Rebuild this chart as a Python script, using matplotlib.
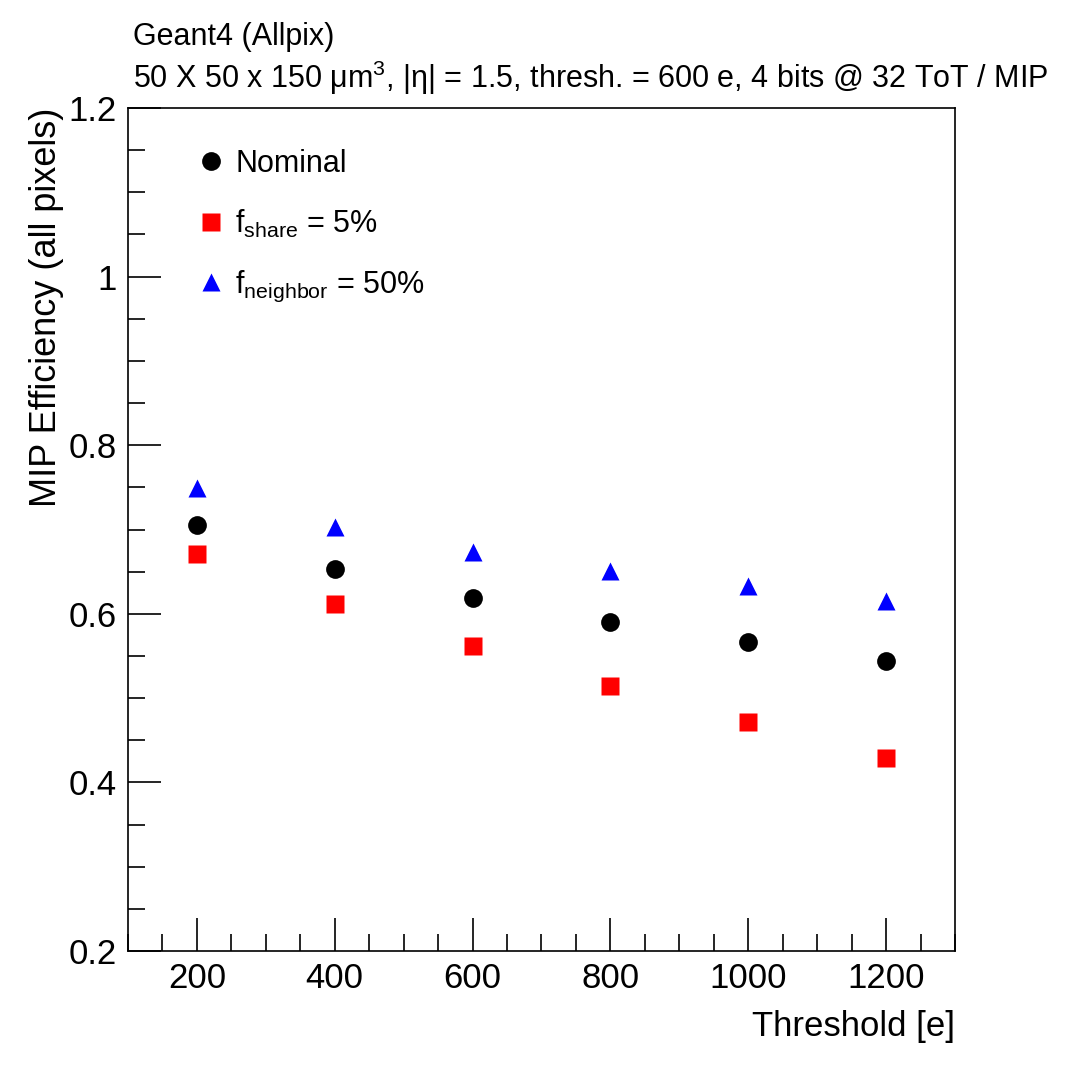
"""MIP efficiency vs threshold, three pixel-sharing variants (Geant4/Allpix)."""
import matplotlib
matplotlib.use("Agg")
import matplotlib.pyplot as plt
from matplotlib.ticker import MultipleLocator, FormatStrFormatter
from matplotlib.lines import Line2D

plt.rcParams["font.family"] = ["Liberation Sans", "DejaVu Sans"]
plt.rcParams["mathtext.fontset"] = "custom"
plt.rcParams["mathtext.rm"] = "Liberation Sans"
plt.rcParams["mathtext.it"] = "Liberation Sans:italic"

# --- data ---
thresholds = [200, 400, 600, 800, 1000, 1200]
eff_nominal = [0.705, 0.653, 0.619, 0.590, 0.567, 0.544]
eff_share = [0.671, 0.612, 0.562, 0.514, 0.472, 0.429]
eff_neighbor = [0.749, 0.703, 0.673, 0.651, 0.633, 0.615]

labels = ["Nominal", r"f$_{\mathrm{share}}$ = 5%", r"f$_{\mathrm{neighbor}}$ = 50%"]

fig = plt.figure(figsize=(10.77, 10.65), dpi=100)
ax = fig.add_axes([0.1188, 0.1070, 0.7679, 0.7916])

ms = 13.5
ax.plot(thresholds, eff_nominal, "o", color="black", ms=ms, mec="none")
ax.plot(thresholds, eff_share, "s", color="#ff0000", ms=ms, mec="none")
ax.plot(thresholds, eff_neighbor, "^", color="#0000ff", ms=ms, mec="none")

ax.set_xlim(100, 1300)
ax.set_ylim(0.2, 1.2)
ax.xaxis.set_major_locator(MultipleLocator(200))
ax.xaxis.set_minor_locator(MultipleLocator(50))
ax.yaxis.set_major_locator(MultipleLocator(0.2))
ax.yaxis.set_minor_locator(MultipleLocator(0.05))
ax.yaxis.set_major_formatter(FormatStrFormatter("%g"))
ax.tick_params(which="both", direction="in", top=False, right=False,
               labelsize=25, width=1.2)
ax.tick_params(which="major", length=24, pad=8)
ax.tick_params(which="minor", length=12)
for sp in ax.spines.values():
    sp.set_linewidth(1.2)

ax.set_xlabel("Threshold [e]", fontsize=25, loc="right", labelpad=11)
ax.set_ylabel("MIP Efficiency (all pixels)", fontsize=26, loc="top")
ax.yaxis.set_label_coords(-0.077, 1.0)

handles = [
    Line2D([], [], ls="none", marker="o", color="black", ms=ms, mec="none"),
    Line2D([], [], ls="none", marker="s", color="#ff0000", ms=ms, mec="none"),
    Line2D([], [], ls="none", marker="^", color="#0000ff", ms=ms, mec="none"),
]
ax.legend(handles, labels, loc="upper left", bbox_to_anchor=(0.076, 0.966),
          frameon=False, fontsize=22, handlelength=0.55, handletextpad=0.5,
          labelspacing=0.95, borderaxespad=0)

fig.text(0.1235, 0.965, "Geant4 (Allpix)", fontsize=22, va="center")
fig.text(0.1235, 0.927,
         r"50 X 50 x 150 μm$^{3}$, |η| = 1.5, thresh. = 600 e, 4 bits @ 32 ToT / MIP",
         fontsize=22, va="center")

fig.savefig("out.png", dpi=100)
